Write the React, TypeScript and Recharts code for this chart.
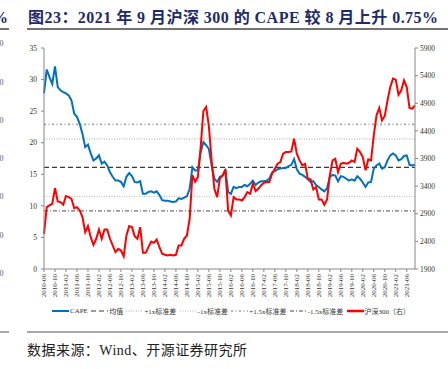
import React from "react";
import { LineChart, Line, XAxis, YAxis, ReferenceLine } from "recharts";

// monthly categories 2010-06 .. 2021-09
const months: string[] = [];
for (let y = 2010, m = 6; y < 2021 || (y === 2021 && m <= 9); m === 12 ? ((m = 1), y++) : m++) {
  months.push(`${y}-${String(m).padStart(2, "0")}`);
}

const cape = [
  27.8, 31.6, 30.4, 29.3, 32.1, 28.8, 28.3, 28.0, 27.8, 27.5, 26.7, 24.6, 24.1, 23.0, 21.4, 19.3, 19.7, 18.3, 17.2, 17.5,
  18.0, 16.7, 17.0, 16.4, 15.3, 14.6, 14.0, 14.0, 13.8, 13.1, 14.6, 15.2, 14.7, 13.8, 13.7, 13.9, 11.9, 11.9, 12.2, 12.3,
  12.1, 12.3, 11.7, 10.9, 10.8, 10.8, 10.7, 10.6, 10.7, 11.2, 11.1, 11.3, 11.5, 12.7, 16.1, 15.6, 15.6, 18.5, 20.1, 19.6,
  19.0, 16.4, 14.3, 13.8, 14.6, 14.8, 15.6, 12.2, 11.9, 13.0, 12.8, 13.0, 13.0, 13.3, 13.1, 13.5, 14.0, 13.3, 13.7, 13.9,
  13.9, 14.0, 14.3, 15.3, 15.5, 15.8, 15.9, 16.0, 16.0, 16.3, 16.5, 17.4, 15.8, 15.1, 14.9, 14.6, 14.2, 13.8, 13.9, 13.3,
  13.0, 12.6, 12.3, 12.8, 14.6, 14.9, 14.8, 13.9, 14.7, 14.6, 14.3, 14.0, 14.2, 14.0, 14.7, 14.3, 13.7, 13.0, 13.7, 13.8,
  15.9, 16.4, 16.7, 15.9, 16.1, 17.2, 18.0, 18.3, 18.0, 17.2, 17.4, 17.9, 18.0, 16.5, 16.4, 16.5,
];

const hs300 = [
  2537, 3020, 3050, 3080, 3365, 3123, 3110, 3063, 3220, 3200, 3170, 3002, 3020, 2960, 2840, 2567, 2676, 2477, 2338, 2447,
  2616, 2447, 2616, 2616, 2447, 2326, 2205, 2265, 2235, 2132, 2507, 2676, 2658, 2495, 2447, 2658, 2193, 2193, 2296, 2398,
  2374, 2435, 2296, 2175, 2157, 2144, 2157, 2144, 2157, 2326, 2326, 2447, 2507, 2809, 3600, 3480, 3564, 4100, 4760, 4833,
  4480, 3860, 3353, 3202, 3534, 3594, 3703, 2960, 2869, 3202, 3160, 3160, 3141, 3202, 3292, 3262, 3443, 3310, 3353, 3413,
  3461, 3473, 3473, 3624, 3715, 3805, 3836, 3987, 4017, 4017, 4029, 4259, 3987, 3866, 3775, 3805, 3534, 3522, 3340, 3383,
  3160, 3160, 3063, 3160, 3594, 3866, 3896, 3654, 3805, 3823, 3805, 3823, 3866, 3836, 4077, 4017, 3926, 3685, 3884, 3866,
  4320, 4682, 4814, 4591, 4670, 4953, 5194, 5345, 5327, 5055, 5134, 5315, 5194, 4814, 4802, 4862,
];

const leftTicks = [0, 5, 10, 15, 20, 25, 30, 35];
const rightTicks = [1900, 2400, 2900, 3400, 3900, 4400, 4900, 5400, 5900];

// CAPE mean and std bands
const capeMean = 16.1;
const capePlus1 = 20.6;
const capeMinus1 = 11.5;
const capePlus15 = 22.9;
const capeMinus15 = 9.2;

const data = months.map((m, i) => ({ m, cape: cape[i], hs: hs300[i] }));

const serif = '"Liberation Serif", "Times New Roman", "Noto Sans CJK SC", serif';
const cjk = '"Liberation Serif", "Noto Sans CJK SC", serif';

const styles = {
  mean: { stroke: "#3a3a3a", dash: "5 3", w: 1.2 },
  p1: { stroke: "#a8a8a8", dash: "1 1.5", w: 1 },
  m1: { stroke: "#b8b8b8", dash: "1 1.5", w: 1 },
  p15: { stroke: "#a0a0a0", dash: "2 2.5 1 2.5", w: 1.6 },
  m15: { stroke: "#4a4a4a", dash: "4 2 1 2", w: 1 },
};

const legendItems = [
  { name: "CAPE", stroke: "#0070C0", dash: undefined, w: 2 },
  { name: "均值", ...styles.mean },
  { name: "+1x标准差", ...styles.p1 },
  { name: "-1x标准差", ...styles.m1 },
  { name: "+1.5x标准差", ...styles.p15 },
  { name: "-1.5x标准差", ...styles.m15 },
  { name: "沪深300（右）", stroke: "#FF0000", dash: undefined, w: 2.5 },
];

const XTick = (props: any) => {
  const { x, y, payload } = props;
  return (
    <text
      x={x}
      y={y}
      transform={`rotate(-90 ${x} ${y})`}
      textAnchor="end"
      dominantBaseline="central"
      fontSize={7}
      fontFamily={serif}
      fill="#333"
    >
      {payload.value}
    </text>
  );
};

const fragY = [43, 82, 120, 158, 196, 235, 273];

export default function App(): JSX.Element {
  return (
    <div style={{ position: "absolute", left: 0, top: 0, width: 448, height: 369, background: "#fff", overflow: "hidden" }}>
      <svg width={448} height={369} style={{ position: "absolute", left: 0, top: 0 }}>
        <text x={8} y={23} textAnchor="end" fontSize={16} fontWeight="bold" fontFamily={serif} fill="#1f2a66">%</text>
        <line x1={0} x2={9} y1={29} y2={29} stroke="#444" strokeWidth={1.5} />
        <line x1={0} x2={9} y1={332} y2={332} stroke="#888" strokeWidth={1.5} />
        {fragY.map((y) => (
          <text key={y} x={3.5} y={y + 3} textAnchor="end" fontSize={8} fontFamily={serif} fill="#555">0</text>
        ))}
        <text x={28} y={23} fontSize={16} fontWeight="bold" fontFamily={cjk} fill="#1f2a66" textLength={410} lengthAdjust="spacing">
          图23：2021 年 9 月沪深 300 的 CAPE 较 8 月上升 0.75%
        </text>
        <line x1={27} x2={448} y1={29} y2={29} stroke="#444" strokeWidth={1.5} />
        <line x1={27} x2={448} y1={332} y2={332} stroke="#888" strokeWidth={1.5} />
        <text x={27} y={355} fontSize={14} fontFamily={cjk} fill="#222" textLength={220} lengthAdjust="spacing">
          数据来源：Wind、开源证券研究所
        </text>
      </svg>
      <div style={{ position: "absolute", left: 0, top: 0 }}>
        <LineChart width={448} height={310} data={data} margin={{ top: 48, right: 0, bottom: 0, left: 14 }}>
          <XAxis
            dataKey="m"
            interval={3}
            height={41}
            tick={<XTick />}
            tickSize={3}
            tickMargin={2}
            stroke="#888"
          />
          <YAxis
            yAxisId="left"
            width={30}
            domain={[0, 35]}
            ticks={leftTicks}
            tickSize={3}
            tickMargin={4}
            stroke="#888"
            tick={{ fontSize: 7.5, fontFamily: serif, fill: "#333" }}
          />
          <YAxis
            yAxisId="right"
            orientation="right"
            width={33}
            domain={[1900, 5900]}
            ticks={rightTicks}
            tickSize={3}
            tickMargin={2}
            stroke="#888"
            tick={{ fontSize: 7.5, fontFamily: serif, fill: "#333", textAnchor: "start" }}
          />
          <ReferenceLine yAxisId="left" y={capePlus15} stroke={styles.p15.stroke} strokeDasharray={styles.p15.dash} strokeWidth={styles.p15.w} />
          <ReferenceLine yAxisId="left" y={capePlus1} stroke={styles.p1.stroke} strokeDasharray={styles.p1.dash} strokeWidth={styles.p1.w} />
          <ReferenceLine yAxisId="left" y={capeMean} stroke={styles.mean.stroke} strokeDasharray={styles.mean.dash} strokeWidth={styles.mean.w} />
          <ReferenceLine yAxisId="left" y={capeMinus1} stroke={styles.m1.stroke} strokeDasharray={styles.m1.dash} strokeWidth={styles.m1.w} />
          <ReferenceLine yAxisId="left" y={capeMinus15} stroke={styles.m15.stroke} strokeDasharray={styles.m15.dash} strokeWidth={styles.m15.w} />
          <Line yAxisId="left" dataKey="cape" name="CAPE" stroke="#0070C0" strokeWidth={2} dot={false} isAnimationActive={false} />
          <Line yAxisId="right" dataKey="hs" name="沪深300（右）" stroke="#FF0000" strokeWidth={2} dot={false} isAnimationActive={false} />
        </LineChart>
      </div>
      <div
        style={{
          position: "absolute",
          left: 52,
          top: 306,
          width: 358,
          display: "flex",
          alignItems: "center",
          justifyContent: "space-between",
          fontSize: 7,
          fontFamily: cjk,
          color: "#333",
          whiteSpace: "nowrap",
        }}
      >
        {legendItems.map((it) => (
          <div key={it.name} style={{ display: "flex", alignItems: "center", gap: 1 }}>
            <svg width={17} height={8}>
              <line x1={0} x2={17} y1={4} y2={4} stroke={it.stroke} strokeWidth={it.w} strokeDasharray={it.dash} />
            </svg>
            <span>{it.name}</span>
          </div>
        ))}
      </div>
    </div>
  );
}
